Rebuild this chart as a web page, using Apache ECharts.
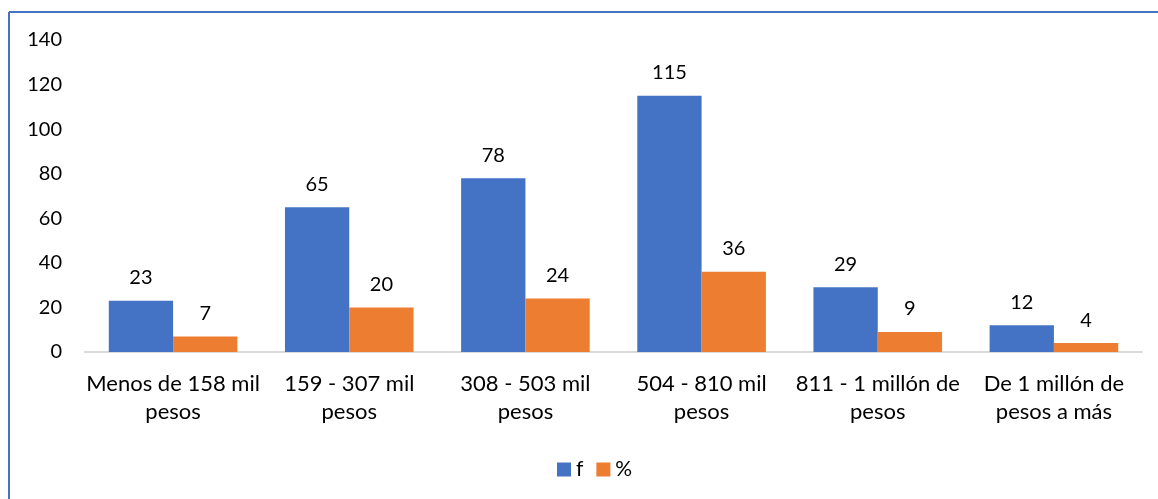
<!DOCTYPE html>
<html>
<head>
<meta charset="utf-8">
<script src="https://cdn.jsdelivr.net/npm/echarts@6/dist/echarts.min.js"></script>
<style>
  html, body { margin: 0; padding: 0; background: #fff; }
  #chart { width: 1158px; height: 499px; }
</style>
</head>
<body>
<div id="chart"></div>
<script>
// Income brackets and counts
const categories = [
  'Menos de 158 mil\npesos',
  '159 - 307 mil\npesos',
  '308 - 503 mil\npesos',
  '504 - 810 mil\npesos',
  '811 - 1 millón de\npesos',
  'De 1 millón de\npesos a más'
];
const freqValues = [23, 65, 78, 115, 29, 12];
const pctValues = [7, 20, 24, 36, 9, 4];
const yTicks = [0, 20, 40, 60, 80, 100, 120, 140];

const FONT = 'Lato, "Open Sans", sans-serif';
const chart = echarts.init(document.getElementById('chart'), null, { renderer: 'canvas' });

const labelStyle = {
  show: true,
  position: 'top',
  distance: 13,
  color: '#000',
  fontSize: 20,
  fontFamily: FONT
};

chart.setOption({
  animation: false,
  backgroundColor: '#fff',
  graphic: [
    { type: 'line', shape: { x1: 9, y1: 12, x2: 9, y2: 499 }, style: { stroke: '#4472C4', lineWidth: 2 } },
    { type: 'line', shape: { x1: 9, y1: 12, x2: 1158, y2: 12 }, style: { stroke: '#4472C4', lineWidth: 2 } }
  ],
  grid: { left: 85, right: 16, top: 40, bottom: 147, containLabel: false },
  legend: {
    top: 454,
    left: 552,
    itemWidth: 14,
    itemHeight: 14,
    itemGap: 13,
    icon: 'rect',
    textStyle: { color: '#000', fontSize: 21, fontFamily: FONT },
    data: ['f', '%']
  },
  xAxis: {
    type: 'category',
    data: categories,
    axisLine: { lineStyle: { color: '#D9D9D9', width: 2 } },
    axisTick: { show: false },
    axisLabel: { color: '#000', fontSize: 22, fontFamily: FONT, lineHeight: 28, margin: 18, interval: 0 }
  },
  yAxis: {
    type: 'value',
    min: yTicks[0],
    max: yTicks[yTicks.length - 1],
    interval: 20,
    axisLine: { show: false },
    axisTick: { show: false },
    splitLine: { show: false },
    axisLabel: { color: '#000', fontSize: 20, fontFamily: FONT, margin: 23 }
  },
  series: [
    {
      name: 'f', type: 'bar', data: freqValues,
      barGap: '0%', barCategoryGap: '27%',
      itemStyle: { color: '#4472C4' },
      label: labelStyle
    },
    {
      name: '%', type: 'bar', data: pctValues,
      itemStyle: { color: '#ED7D31' },
      label: labelStyle
    }
  ]
});
</script>
</body>
</html>
